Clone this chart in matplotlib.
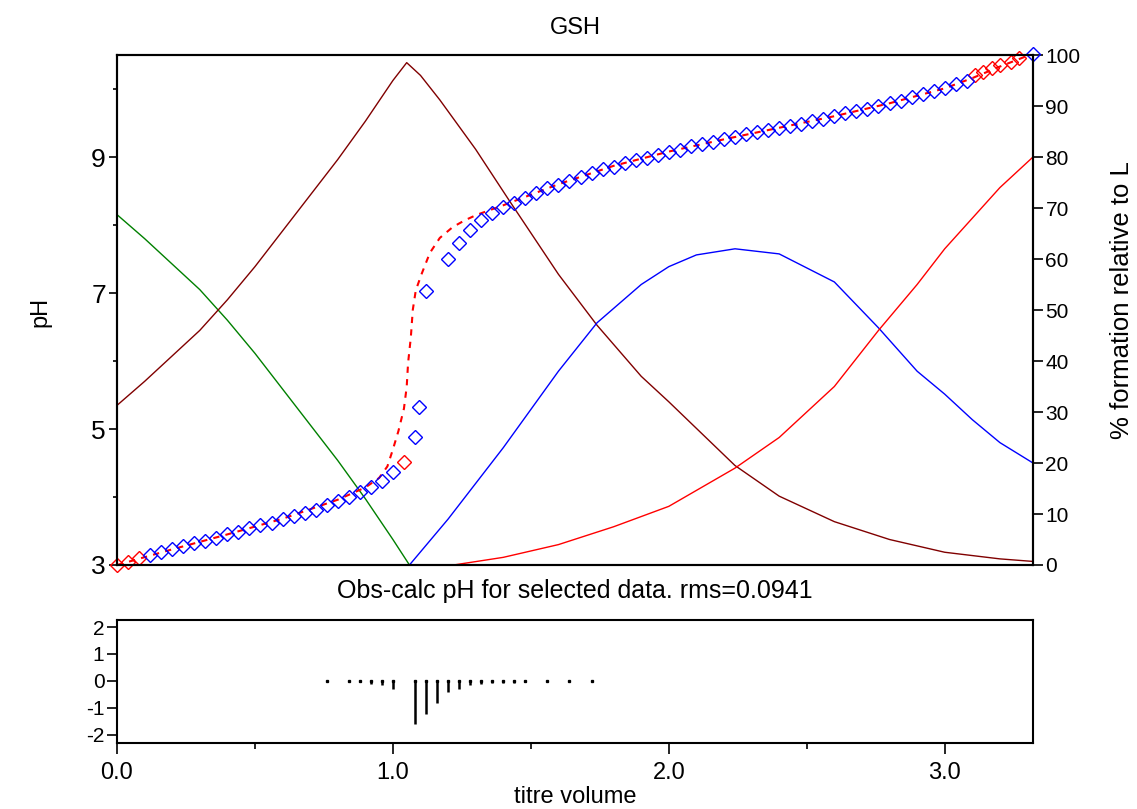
import matplotlib
matplotlib.use("Agg")
import matplotlib.pyplot as plt

plt.rcParams['font.family'] = ['Liberation Sans', 'DejaVu Sans']
plt.rcParams['axes.unicode_minus'] = False

# ---- observed titration points (fitted) ----
vol_fit = [0.12, 0.16, 0.20, 0.24, 0.28, 0.32, 0.36, 0.40, 0.44, 0.48, 0.52, 0.56,
           0.60, 0.64, 0.68, 0.72, 0.76, 0.80, 0.84, 0.88, 0.92, 0.96, 1.00,
           1.08, 1.095, 1.12,
           1.20, 1.24, 1.28, 1.32, 1.36, 1.40, 1.44, 1.48, 1.52, 1.56, 1.60, 1.64,
           1.68, 1.72, 1.76, 1.80, 1.84, 1.88, 1.92, 1.96, 2.00, 2.04, 2.08, 2.12,
           2.16, 2.20, 2.24, 2.28, 2.32, 2.36, 2.40, 2.44, 2.48, 2.52, 2.56, 2.60,
           2.64, 2.68, 2.72, 2.76, 2.80, 2.84, 2.88, 2.92, 2.96, 3.00, 3.04, 3.08,
           3.32]
ph_fit = [3.14, 3.19, 3.23, 3.28, 3.32, 3.36, 3.40, 3.45, 3.49, 3.54, 3.59, 3.62,
          3.67, 3.72, 3.77, 3.81, 3.88, 3.94, 4.00, 4.07, 4.15, 4.24, 4.37,
          4.88, 5.32, 7.03,
          7.50, 7.74, 7.93, 8.08, 8.18, 8.26, 8.32, 8.40, 8.47, 8.54, 8.59, 8.65,
          8.71, 8.77, 8.82, 8.86, 8.91, 8.95, 8.99, 9.03, 9.07, 9.11, 9.16, 9.19,
          9.22, 9.26, 9.30, 9.34, 9.37, 9.40, 9.43, 9.46, 9.49, 9.53, 9.56, 9.60,
          9.64, 9.67, 9.71, 9.75, 9.79, 9.83, 9.88, 9.92, 9.97, 10.01, 10.07, 10.12,
          10.51]

# ---- observed points excluded from the fit ----
vol_excl = [0.00, 0.04, 0.08, 1.04, 3.11, 3.14, 3.17, 3.20, 3.24, 3.27]
ph_excl = [3.00, 3.05, 3.10, 4.51, 10.20, 10.25, 10.31, 10.35, 10.40, 10.45]

# ---- calculated pH curve ----
vol_calc = [0.00, 0.20, 0.40, 0.60, 0.80, 0.90, 0.95, 0.98, 1.00, 1.02, 1.04,
            1.05, 1.055, 1.065, 1.072, 1.083, 1.105, 1.134, 1.170, 1.217, 1.261,
            1.304, 1.40, 1.60, 1.80, 2.00, 2.20, 2.40, 2.60, 2.80, 3.00, 3.10,
            3.20, 3.32]
ph_calc = [3.00, 3.23, 3.45, 3.68, 3.96, 4.14, 4.28, 4.45, 4.70, 4.97, 5.30,
           5.62, 5.97, 6.35, 6.75, 7.04, 7.29, 7.59, 7.81, 7.97, 8.07,
           8.15, 8.29, 8.60, 8.87, 9.08, 9.26, 9.43, 9.60, 9.79, 10.01, 10.16,
           10.33, 10.52]

# ---- species distribution (% relative to L) ----
vol_lh3 = [0.00, 0.10, 0.20, 0.30, 0.40, 0.50, 0.60, 0.70, 0.80, 0.90, 1.00, 1.06]
pct_lh3 = [68.7, 64.0, 59.0, 54.0, 48.0, 41.5, 34.5, 27.5, 20.5, 13.0, 5.0, 0.0]

vol_lh2 = [0.00, 0.10, 0.20, 0.30, 0.40, 0.50, 0.60, 0.70, 0.80, 0.90, 1.00,
           1.05, 1.10, 1.17, 1.30, 1.42, 1.60, 1.74, 1.90, 2.00, 2.24, 2.40,
           2.60, 2.80, 3.00, 3.20, 3.32]
pct_lh2 = [31.3, 36.0, 41.0, 46.0, 52.0, 58.5, 65.5, 72.5, 79.5, 87.0, 95.0,
           98.5, 96.0, 91.2, 81.5, 71.6, 57.0, 47.0, 37.0, 32.0, 19.5, 13.5,
           8.5, 5.0, 2.5, 1.2, 0.7]

vol_lh = [1.06, 1.20, 1.40, 1.60, 1.74, 1.90, 2.00, 2.10, 2.24, 2.40, 2.60,
          2.76, 2.90, 3.00, 3.10, 3.20, 3.32]
pct_lh = [0.0, 9.0, 23.0, 38.0, 47.5, 55.0, 58.5, 60.8, 62.0, 61.0, 55.5,
          46.5, 38.0, 33.5, 28.5, 24.0, 20.0]

vol_l = [1.22, 1.40, 1.60, 1.80, 2.00, 2.24, 2.40, 2.60, 2.76, 2.90, 3.00,
         3.10, 3.20, 3.32]
pct_l = [0.0, 1.5, 4.0, 7.5, 11.5, 19.0, 25.0, 35.0, 46.0, 55.0, 62.0,
         68.0, 74.0, 80.0]

# ---- residuals (obs - calc) for selected data ----
vol_res = [0.76, 0.84, 0.88, 0.92, 0.96, 1.00, 1.08, 1.12, 1.16, 1.20, 1.24,
           1.28, 1.32, 1.36, 1.40, 1.44, 1.48, 1.56, 1.64, 1.72]
res = [0.0, 0.0, -0.05, -0.13, -0.15, -0.28, -1.60, -1.22, -0.83, -0.42, -0.28,
       -0.15, -0.13, -0.08, -0.06, -0.08, -0.04, 0.0, 0.0, 0.0]

W, H = 1137, 809
fig = plt.figure(figsize=(W / 100, H / 100), dpi=100)
fig.patch.set_facecolor('white')

L, R = 117, 1033
ax = fig.add_axes([L / W, 1 - 565 / H, (R - L) / W, 510 / H])
ax2 = ax.twinx()
axr = fig.add_axes([L / W, 1 - 743 / H, (R - L) / W, 123 / H])

# species on the right axis
ax2.plot(vol_lh3, pct_lh3, color='#008000', lw=1.0)
ax2.plot(vol_lh2, pct_lh2, color='#800000', lw=1.0)
ax2.plot(vol_lh, pct_lh, color='#0000ff', lw=1.0)
ax2.plot(vol_l, pct_l, color='#ff0000', lw=1.0)
ax2.set_ylim(0, 100)
ax2.set_yticks(range(0, 101, 10))
ax2.tick_params(axis='y', direction='out', length=7, width=1.2, labelsize=15, pad=2)

# pH data on the left axis, drawn above the species lines
ax.set_zorder(ax2.get_zorder() + 1)
ax.patch.set_visible(False)
ax.plot(vol_calc, ph_calc, color='#ff0000', lw=1.5, ls=(0, (3, 3)))
ax.plot(vol_excl, ph_excl, ls='none', marker='D', ms=7.5, mfc='none', mec='#ff0000',
        mew=1.0, clip_on=False)
ax.plot(vol_fit, ph_fit, ls='none', marker='D', ms=7.5, mfc='none', mec='#0000ff',
        mew=1.0, clip_on=False)
ax.set_xlim(0, 3.32)
ax.set_ylim(3, 10.5)
ax.set_yticks([3, 5, 7, 9])
ax.set_yticks([4, 6, 8, 10], minor=True)
ax.tick_params(axis='y', which='major', direction='out', length=6, width=1.2,
               labelsize=19, pad=2)
ax.tick_params(axis='y', which='minor', direction='out', length=3, width=1.2)
ax.set_xticks([])

for a in (ax, ax2, axr):
    for s in a.spines.values():
        s.set_linewidth(1.5)

# residual panel
axr.vlines(vol_res, 0, res, color='black', lw=1.8)
axr.plot(vol_res, [0] * len(vol_res), ls='none', marker='s', ms=1.4, color='black')
axr.set_xlim(0, 3.32)
axr.set_ylim(-2.3, 2.26)
axr.set_yticks([-2, -1, 0, 1, 2])
axr.set_xticks([0, 1, 2, 3])
axr.set_xticklabels(['0.0', '1.0', '2.0', '3.0'])
axr.set_xticks([0.5, 1.5, 2.5], minor=True)
axr.tick_params(axis='y', which='major', direction='out', length=7, width=1.2,
                labelsize=15, pad=2)
axr.tick_params(axis='x', which='major', direction='out', length=8, width=1.2,
                labelsize=17, pad=6)
axr.tick_params(axis='x', which='minor', direction='out', length=4, width=1.2)

fig.text(575 / W, 1 - 28 / H, 'GSH', ha='center', va='center', fontsize=17)
fig.text(575 / W, 1 - 591 / H, 'Obs-calc pH for selected data. rms=0.0941',
         ha='center', va='center', fontsize=18)
fig.text(575 / W, 1 - 797 / H, 'titre volume', ha='center', va='center', fontsize=17)
fig.text(40 / W, 1 - 312 / H, 'pH', ha='center', va='center', rotation=90, fontsize=17)
fig.text(1122 / W, 1 - 300 / H, '% formation relative to L', ha='center', va='center',
         rotation=90, fontsize=18.5)

fig.savefig('out.png', dpi=100)
